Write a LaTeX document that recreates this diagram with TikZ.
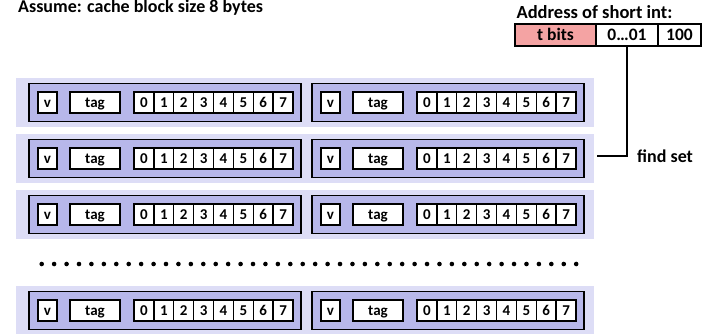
\documentclass[tikz,border=0pt]{standalone}
\usepackage{fontspec}
\setmainfont{Carlito}
\definecolor{bandcol}{HTML}{DDDDF6}
\definecolor{linecol}{HTML}{B7B7EA}
\definecolor{tagcol}{HTML}{F4A3A3}
\begin{document}
\begin{tikzpicture}[x=1pt,y=-1pt,font=\bfseries]
\tikzset{
  setband/.style={fill=bandcol,draw=none},
  linebox/.style={draw=black,fill=linecol,line width=1.6pt,inner sep=0,
    minimum width=272pt,minimum height=38pt},
  cell/.style={draw=black,fill=white,line width=1.4pt,inner sep=0,outer sep=0,
    minimum height=21pt,text height=9.6pt,text depth=0pt,
    font=\bfseries\fontsize{15}{15}\selectfont},
  addrcell/.style={draw=black,line width=1.2pt,inner sep=0,outer sep=0,
    minimum height=22pt,text height=11pt,text depth=0pt,
    font=\bfseries\fontsize{17.5}{17.5}\selectfont},
  bigtext/.style={inner sep=0,font=\bfseries\fontsize{18}{18}\selectfont},
}
\useasboundingbox (0,0) rectangle (709,333);

% title along the top edge
\node[bigtext,anchor=base west] (title) at (18,12.5) {Assume: cache block size 8 bytes};

% address layout
\node[bigtext,anchor=base,font=\bfseries\fontsize{18.5}{18.5}\selectfont] (addrlabel) at (594.5,18.5) {Address of short int:};
\node[addrcell,fill=tagcol,minimum width=81pt] (addrT) at (555.5,35) {t bits};
\node[addrcell,fill=white,minimum width=62pt] (addrI) at (627,35) {0…01};
\node[addrcell,fill=white,minimum width=43pt] (addrO) at (679.5,35) {100};

% sets: each has two lines of 8-byte blocks
\foreach \r/\c in {1/102.5,2/158.5,3/214.5,4/310.5}{
  \fill[setband] (16,\c-24.5) rectangle (594,\c+24.5);
  \foreach \k/\x in {1/29,2/312}{
    \node[linebox] (L\r\k) at (\x+136,\c) {};
    \node[cell,minimum width=19pt] (v\r\k) at (\x+18.5,\c) {v};
    \node[cell,minimum width=50pt] (tag\r\k) at (\x+66,\c) {tag};
    \foreach \i in {0,...,7}{
      \node[cell,minimum width=19.875pt] (b\r\k\i) at (\x+105+19.875*\i+9.9375,\c) {\i};
    }
  }
}

% elided sets
\foreach \i in {0,...,43}{
  \fill (41.7+12.43*\i,264) circle (2.3pt);
}

% set index selects a set
\coordinate (bend) at (627,156);
\coordinate (fsend) at (597,156);
\draw[line width=1.4pt] (addrI.south) -- (bend) -- (fsend);
\node[bigtext,anchor=west] (findset) at (637,156) {find set};
\end{tikzpicture}
\end{document}
